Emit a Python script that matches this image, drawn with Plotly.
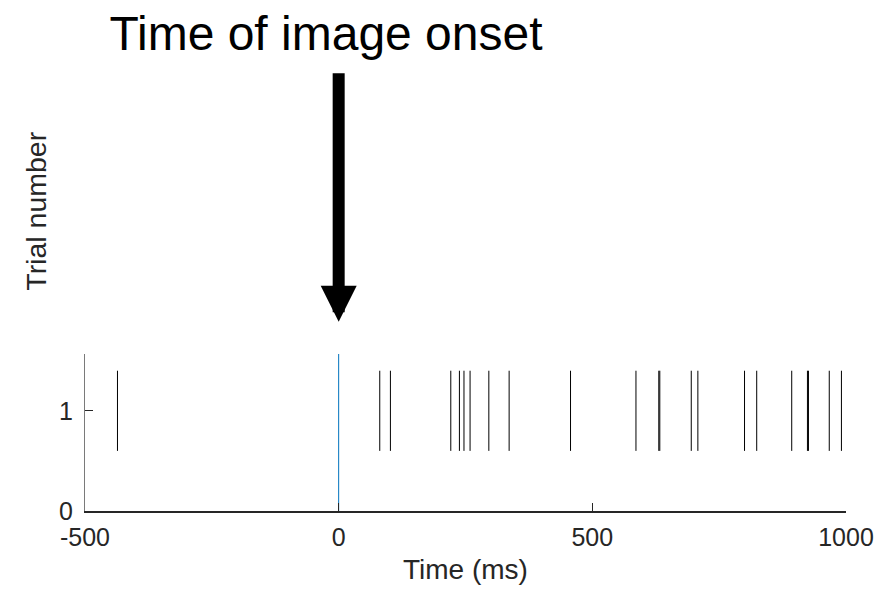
import plotly.graph_objects as go

# Data
spike_times = [-436, 81, 102, 221, 238, 247, 259, 296, 336, 457, 586, 631, 633,
               695, 708, 800, 824, 893, 924, 926, 967, 991]
trial_number = 1
onset_time = 0
x_ticks = [-500, 0, 500, 1000]
x_tick_labels = ["-500", "0", "500", "1000"]
y_ticks = [0, 1]
y_tick_labels = ["0", "1"]
x_range = [-500, 1000]
y_range = [0, 1.567]
half_height = 0.4

xs, ys = [], []
for t in spike_times:
    xs += [t, t, None]
    ys += [trial_number - half_height, trial_number + half_height, None]

FONT = "Arial, Liberation Sans, sans-serif"
TXT = "#262626"

# page body has an 8px margin; layout values below are in figure coordinates
L, T = 77, 346
PLOT_W, PLOT_H = 761, 156.7
BOTTOM = T + PLOT_H

fig = go.Figure()
fig.add_trace(go.Scatter(x=xs, y=ys, mode="lines",
                         line=dict(color="black", width=1),
                         hoverinfo="skip", showlegend=False))
fig.add_trace(go.Scatter(x=[onset_time, onset_time], y=y_range, mode="lines",
                         line=dict(color="#0072BD", width=1),
                         hoverinfo="skip", showlegend=False))

fig.update_layout(
    width=885, height=590,
    margin=dict(l=L, r=885 - L - PLOT_W, t=T, b=590 - BOTTOM, pad=0),
    paper_bgcolor="white", plot_bgcolor="white",
    showlegend=False,
    font=dict(family=FONT, color=TXT, size=25),
    title=dict(text="Time of image onset", font=dict(family=FONT, size=48, color="black"),
               xref="paper", x=(318 - L) / PLOT_W, xanchor="center",
               yref="container", y=1 - 25 / 590, yanchor="middle"),
)
fig.update_xaxes(range=x_range, tickvals=x_ticks, ticktext=x_tick_labels,
                 showgrid=False, zeroline=False, showline=True,
                 linecolor=TXT, linewidth=2, ticks="inside", ticklen=8,
                 tickwidth=1, tickcolor=TXT, tickfont=dict(size=25, color=TXT),
                 ticklabelstandoff=3)
fig.update_yaxes(range=y_range, tickvals=y_ticks, ticktext=y_tick_labels,
                 showgrid=False, zeroline=False, showline=True,
                 linecolor="#7a7a7a", linewidth=1, ticks="inside", ticklen=8,
                 tickwidth=1, tickcolor=TXT, tickfont=dict(size=25, color=TXT),
                 ticklabelstandoff=6)

# Axis titles
fig.add_annotation(text="Time (ms)", xref="paper", yref="paper",
                   x=0.5, y=(BOTTOM - 561) / PLOT_H, showarrow=False,
                   xanchor="center", yanchor="middle",
                   font=dict(size=28, color=TXT, family=FONT))
fig.add_annotation(text="Trial number", xref="paper", yref="paper",
                   x=(28 - L) / PLOT_W, y=(BOTTOM - 203) / PLOT_H, showarrow=False,
                   textangle=-90, xanchor="center", yanchor="middle",
                   font=dict(size=28.5, color=TXT, family=FONT))

# Arrow pointing at onset
fig.add_annotation(x=onset_time, y=(BOTTOM - 313.7) / PLOT_H, xref="x", yref="paper", text="",
                   showarrow=True, ax=0, ay=-250,
                   arrowhead=2, arrowsize=0.6, arrowwidth=12, arrowcolor="black")

fig.write_html("out.html")
